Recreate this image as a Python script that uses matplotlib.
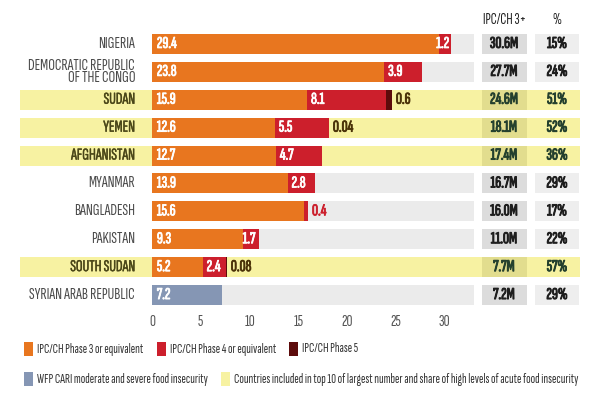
import matplotlib.pyplot as plt
import matplotlib.patheffects as pe
from matplotlib import font_manager
from matplotlib.patches import Rectangle
from matplotlib.transforms import blended_transform_factory

countries = [
    "NIGERIA",
    "DEMOCRATIC REPUBLIC\nOF THE CONGO",
    "SUDAN",
    "YEMEN",
    "AFGHANISTAN",
    "MYANMAR",
    "BANGLADESH",
    "PAKISTAN",
    "SOUTH SUDAN",
    "SYRIAN ARAB REPUBLIC",
]
phase3 = [29.4, 23.8, 15.9, 12.6, 12.7, 13.9, 15.6, 9.3, 5.2, 0]
phase4 = [1.2, 3.9, 8.1, 5.5, 4.7, 2.8, 0.4, 1.7, 2.4, 0]
phase5 = [0, 0, 0.6, 0.04, 0, 0, 0, 0, 0.08, 0]
cari = [0, 0, 0, 0, 0, 0, 0, 0, 0, 7.2]
ipc3_total = ["30.6M", "27.7M", "24.6M", "18.1M", "17.4M", "16.7M", "16.0M", "11.0M", "7.7M", "7.2M"]
share = ["15%", "24%", "51%", "52%", "36%", "29%", "17%", "22%", "57%", "29%"]
highlight = [False, False, True, True, True, False, False, False, True, False]
xticks = [0, 5, 10, 15, 20, 25, 30]

ORANGE = "#e8761f"
RED = "#cc1f2c"
DARKRED = "#5c0b0b"
BLUE = "#8596b4"
YELLOW = "#f7f2a2"
YELLOW_DARK = "#e2dd8e"
GREY_BAR = "#ebebeb"
GREY_BOX = "#dcdcdc"
GREY_BOX2 = "#eeeeee"

# the original uses a narrow news face; take the closest one installed
names = {f.name for f in font_manager.fontManager.ttflist}
family = "DejaVu Sans"
for cand in ["Sofia Sans Extra Condensed", "Fira Sans Extra Condensed", "Barlow Condensed", "Roboto Condensed"]:
    if cand in names:
        family = cand
        break
plt.rcParams["font.family"] = [family, "DejaVu Sans"]


def heavy(color, lw=0.7):
    # the face has no bold cut, so thicken the glyphs with a thin stroke
    return [pe.withStroke(linewidth=lw, foreground=color)]


W, H = 600, 400
fig = plt.figure(figsize=(6, 4), dpi=100)
x0_px, x1_px = 152, 474
top_px, bot_px = 30, 309
ax = fig.add_axes([x0_px / W, 1 - bot_px / H, (x1_px - x0_px) / W, (bot_px - top_px) / H])
ax.set_xlim(0, 33)
ax.set_ylim(len(countries) - 0.5, -0.5)
for s in ax.spines.values():
    s.set_visible(False)
ax.set_yticks([])
ax.set_xticks(xticks)
ax.tick_params(axis="x", length=0, pad=4, labelsize=12, labelcolor="#555555")

fig_x = blended_transform_factory(fig.transFigure, ax.transData)
bh = 0.72


def px(x):
    return x / W


for i, name in enumerate(countries):
    if highlight[i]:
        ax.add_patch(Rectangle((px(20), i - bh / 2), px(560), bh, transform=fig_x,
                               facecolor=YELLOW, edgecolor="none", clip_on=False, zorder=0))
    else:
        ax.add_patch(Rectangle((0, i - bh / 2), 33, bh, facecolor=GREY_BAR,
                               edgecolor="none", zorder=0.5))
    box1 = YELLOW_DARK if highlight[i] else GREY_BOX
    box2 = YELLOW if highlight[i] else GREY_BOX2
    ax.add_patch(Rectangle((px(482), i - bh / 2), px(45), bh, transform=fig_x,
                           facecolor=box1, edgecolor="none", clip_on=False, zorder=0.6))
    ax.add_patch(Rectangle((px(535), i - bh / 2), px(44), bh, transform=fig_x,
                           facecolor=box2, edgecolor="none", clip_on=False, zorder=0.6))
    txt_col = "#24402e" if highlight[i] else "#1e1e1e"
    ax.text(px(504), i, ipc3_total[i], transform=fig_x, ha="center", va="center",
            fontsize=12, color=txt_col, path_effects=heavy(txt_col))
    ax.text(px(557), i, share[i], transform=fig_x, ha="center", va="center",
            fontsize=12, color=txt_col, path_effects=heavy(txt_col))
    lab_col = "#4a4618" if highlight[i] else "#4a4a4a"
    lab_fx = heavy(lab_col, 0.3) if highlight[i] else None
    ax.text(px(135), i, name, transform=fig_x, ha="right", va="center",
            fontsize=12, color=lab_col, linespacing=0.82, path_effects=lab_fx)

ax.barh(range(len(countries)), phase3, height=bh, color=ORANGE, zorder=2)
ax.barh(range(len(countries)), phase4, left=phase3, height=bh, color=RED, zorder=2)
left5 = [a + b for a, b in zip(phase3, phase4)]
ax.barh(range(len(countries)), phase5, left=left5, height=bh, color=DARKRED, zorder=2)
ax.barh(range(len(countries)), cari, height=bh, color=BLUE, zorder=2)


def value(x, y, s, ha, color):
    ax.text(x, y, s, ha=ha, va="center", fontsize=12, color=color, zorder=3,
            path_effects=heavy(color, 0.6))


for i in range(len(countries)):
    if phase3[i] > 0:
        value(0.5, i, f"{phase3[i]:g}", "left", "white")
    if cari[i] > 0:
        value(0.5, i, f"{cari[i]:g}", "left", "white")
    p4 = phase4[i]
    if p4 >= 2:
        value(phase3[i] + 0.4, i, f"{p4:g}", "left", "white")
    elif p4 >= 1:
        value(phase3[i] + p4 / 2 - 0.2, i, f"{p4:g}", "center", "white")
    elif p4 > 0:
        value(left5[i] + 0.4, i, f"{p4:g}", "left", RED)
    if phase5[i] > 0:
        value(left5[i] + phase5[i] + 0.4, i, f"{phase5[i]:g}", "left", "#4a3208")

fig.text(px(505), 1 - 20 / H, "IPC/CH 3+", ha="center", va="center", fontsize=11, color="#222222")
fig.text(px(557), 1 - 20 / H, "%", ha="center", va="center", fontsize=11, color="#222222")

# legend, drawn by hand in two rows
legend_rows = [
    [(24, ORANGE, "IPC/CH Phase 3 or equivalent"),
     (157, RED, "IPC/CH Phase 4 or equivalent"),
     (289, DARKRED, "IPC/CH Phase 5")],
    [(24, BLUE, "WFP CARI moderate and severe food insecurity"),
     (221, YELLOW, "Countries included in top 10 of largest number and share of high levels of acute food insecurity")],
]
for y_px, row in zip([349, 379], legend_rows):
    for x_px, col, label in row:
        fig.patches.append(Rectangle((px(x_px), 1 - (y_px + 7) / H), px(9), 14 / H,
                                     transform=fig.transFigure, facecolor=col, edgecolor="none"))
        fig.text(px(x_px + 13), 1 - y_px / H, label, ha="left", va="center",
                 fontsize=9.7, color="#333333")

fig.savefig("out.png", dpi=100)
